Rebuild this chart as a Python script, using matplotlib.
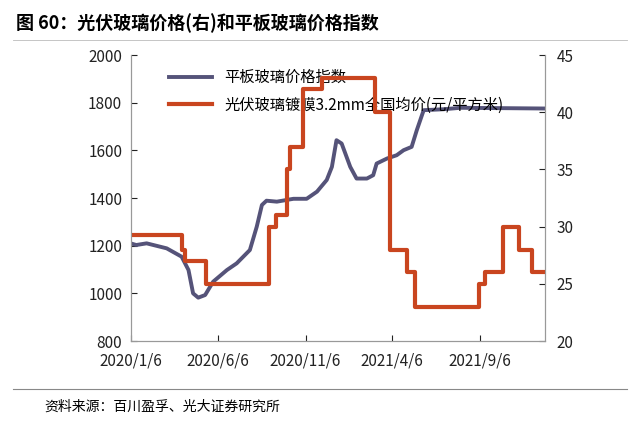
import matplotlib
matplotlib.use('Agg')
import matplotlib.pyplot as plt
import pandas as pd

plt.rcParams['font.family'] = ['Noto Sans CJK SC', 'DejaVu Sans']

# 平板玻璃价格指数 (左轴)
flat_dates = ["2020-01-06", "2020-01-16", "2020-02-03", "2020-03-09", "2020-04-04", "2020-04-16",
              "2020-04-24", "2020-05-03", "2020-05-15", "2020-05-29", "2020-06-22", "2020-07-09",
              "2020-08-01", "2020-08-13", "2020-08-22", "2020-08-30", "2020-09-17", "2020-10-16",
              "2020-11-08", "2020-11-26", "2020-12-13", "2020-12-22", "2020-12-30", "2021-01-08",
              "2021-01-23", "2021-02-03", "2021-02-21", "2021-03-04", "2021-03-10", "2021-03-28",
              "2021-04-14", "2021-04-26", "2021-05-10", "2021-05-19", "2021-05-31", "2021-07-05",
              "2021-08-03", "2021-12-29"]
flat_vals = [1210, 1203, 1210, 1189, 1154, 1098, 1000, 982, 993, 1049, 1098, 1126,
             1182, 1280, 1371, 1389, 1385, 1397, 1397, 1427, 1476, 1531, 1643, 1629,
             1531, 1482, 1482, 1496, 1545, 1566, 1580, 1601, 1615, 1685, 1769, 1773,
             1779, 1776]

# 光伏玻璃镀膜3.2mm全国均价 (右轴)
pv_dates = ["2020-01-06", "2020-04-04", "2020-04-10", "2020-05-16", "2020-09-04", "2020-09-15",
            "2020-10-04", "2020-10-10", "2020-11-01", "2020-12-04", "2021-03-07", "2021-04-03",
            "2021-05-02", "2021-05-16", "2021-09-05", "2021-09-15", "2021-10-17", "2021-11-13",
            "2021-12-06", "2021-12-29"]
pv_vals = [29.3, 28.0, 27.0, 25.0, 30.0, 31.0, 35.0, 37.0, 42.0, 43.0, 40.0, 28.0,
           26.0, 23.0, 25.0, 26.0, 30.0, 28.0, 26.0, 26.0]

xticks = ["2020-01-06", "2020-06-06", "2020-11-06", "2021-04-06", "2021-09-06"]
xlabels = ["2020/1/6", "2020/6/6", "2020/11/6", "2021/4/6", "2021/9/6"]

blue = "#555379"
red = "#c9451f"

fig = plt.figure(figsize=(6.4, 4.21), dpi=100)
ax = fig.add_axes([0.204, 0.19, 0.648, 0.679])
ax2 = ax.twinx()

l1, = ax.plot(pd.to_datetime(flat_dates), flat_vals, color=blue, lw=2.8)
l2, = ax2.step(pd.to_datetime(pv_dates), pv_vals, where='post', color=red, lw=3)

ax.set_ylim(800, 2000)
ax.set_yticks(range(800, 2001, 200))
ax2.set_ylim(20, 45)
ax2.set_yticks(range(20, 46, 5))
ax.set_xlim(pd.Timestamp("2020-01-06"), pd.Timestamp("2021-12-29"))
ax.set_xticks(pd.to_datetime(xticks))
ax.set_xticklabels(xlabels)

for a in (ax, ax2):
    a.spines['top'].set_visible(False)
    for s in a.spines.values():
        s.set_color("#999999")
    a.tick_params(direction='in', labelsize=11, colors='#222222', length=4)
ax.tick_params(axis='x', pad=8)
ax.tick_params(axis='y', pad=6)
ax2.tick_params(axis='y', pad=8)

ax.legend([l1, l2], ["平板玻璃价格指数", "光伏玻璃镀膜3.2mm全国均价(元/平方米)"],
          loc='upper left', bbox_to_anchor=(0.06, 1.0), frameon=False, fontsize=11,
          handlelength=2.8, labelspacing=0.7)

fig.text(0.025, 0.945, "图 60：光伏玻璃价格(右)和平板玻璃价格指数", fontsize=13,
         fontweight='bold', va='center')
fig.add_artist(plt.Line2D([0.02, 0.98], [0.905, 0.905], color="#bbbbbb", lw=0.6))
fig.add_artist(plt.Line2D([0.02, 0.98], [0.075, 0.075], color="#888888", lw=0.8))
fig.text(0.07, 0.035, "资料来源：百川盈孚、光大证券研究所", fontsize=10, va='center')

fig.savefig("out.png", dpi=100)
